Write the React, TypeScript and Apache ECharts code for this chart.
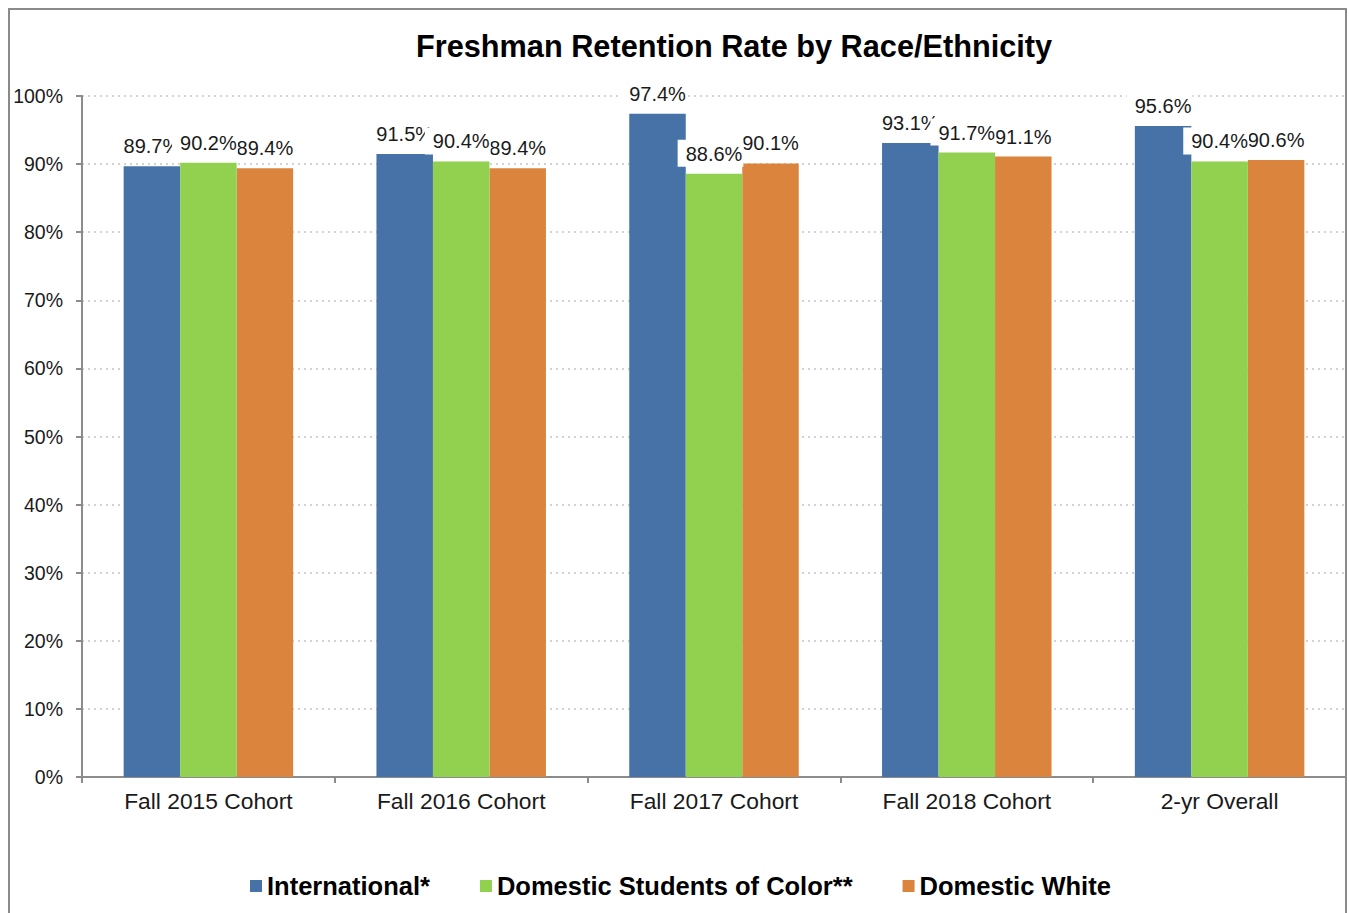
import React, { useEffect, useRef } from "react";
import * as echarts from "echarts";

const titleText = "Freshman Retention Rate by Race/Ethnicity";
const categories = ["Fall 2015 Cohort", "Fall 2016 Cohort", "Fall 2017 Cohort", "Fall 2018 Cohort", "2-yr Overall"];
const seriesNames = ["International*", "Domestic Students of Color**", "Domestic White"];
const international = [89.7, 91.5, 97.4, 93.1, 95.6];
const studentsOfColor = [90.2, 90.4, 88.6, 91.7, 90.4];
const domesticWhite = [89.4, 89.4, 90.1, 91.1, 90.6];
const yMin = 0;
const yMax = 100;
const yStep = 10;

const FONT = "'Liberation Sans', Arial, Helvetica, sans-serif";
const COLORS = ["#4672A8", "#92D050", "#DB843E"];

export default function App() {
  const ref = useRef<HTMLDivElement>(null);

  useEffect(() => {
    if (!ref.current) return;
    const chart = echarts.init(ref.current, undefined, { renderer: "svg" });

    const labelCfg = {
      show: true,
      position: "top",
      distance: 7,
      offset: [-3.5, 0],
      formatter: (p: any) => `${Number(p.value).toFixed(1)}%`,
      fontFamily: FONT,
      fontSize: 20,
      color: "#1a1a1a",
      backgroundColor: "#ffffff",
      padding: [4, 1, 3, 8],
      lineHeight: 20,
    };

    const mk = (name: string, data: number[], idx: number, z: number) => ({
      name,
      type: "bar",
      data,
      barWidth: 56.5,
      barGap: "0%",
      z,
      itemStyle: { color: COLORS[idx] },
      label: labelCfg,
      emphasis: { disabled: true },
    });

    chart.setOption({
      animation: false,
      backgroundColor: "#ffffff",
      title: {
        text: titleText,
        left: 411,
        top: 26,
        textStyle: { fontFamily: FONT, fontSize: 30.7, fontWeight: "bold", color: "#000" },
      },
      legend: {
        data: seriesNames,
        left: 245,
        top: 868,
        icon: "rect",
        itemWidth: 12,
        itemHeight: 12,
        itemGap: 50,
        textStyle: { fontFamily: FONT, fontSize: 25.5, fontWeight: "bold", color: "#000" },
      },
      grid: { left: 82, right: 3, top: 96, bottom: 136, containLabel: false },
      xAxis: {
        type: "category",
        data: categories,
        axisLine: { show: true, lineStyle: { color: "#8c8c8c", width: 2 } },
        axisTick: { show: true, alignWithLabel: false, length: 6, lineStyle: { color: "#8c8c8c", width: 2 } },
        axisLabel: { fontFamily: FONT, fontSize: 22.8, color: "#1a1a1a", margin: 12 },
        splitLine: { show: false },
      },
      yAxis: {
        type: "value",
        min: yMin,
        max: yMax,
        interval: yStep,
        axisLine: { show: true, lineStyle: { color: "#8c8c8c", width: 2 } },
        axisTick: { show: true, length: 6, lineStyle: { color: "#8c8c8c", width: 2 } },
        axisLabel: { fontFamily: FONT, fontSize: 19.5, color: "#1a1a1a", margin: 19, formatter: "{value}%" },
        splitLine: { show: true, lineStyle: { color: "#c4c4c4", width: 1.5, type: [2, 4] } },
      },
      graphic: [
        {
          type: "rect",
          shape: { x: 9, y: 9, width: 1337, height: 912 },
          style: { fill: "none", stroke: "#8a8a8a", lineWidth: 2 },
          silent: true,
          z: 0,
        },
      ],
      series: [
        mk(seriesNames[0], international, 0, 2),
        mk(seriesNames[1], studentsOfColor, 1, 4),
        mk(seriesNames[2], domesticWhite, 2, 3),
      ],
    });

    return () => chart.dispose();
  }, []);

  return (
    <div
      ref={ref}
      style={{ position: "absolute", left: 0, top: 0, width: 1349, height: 913 }}
    />
  );
}
